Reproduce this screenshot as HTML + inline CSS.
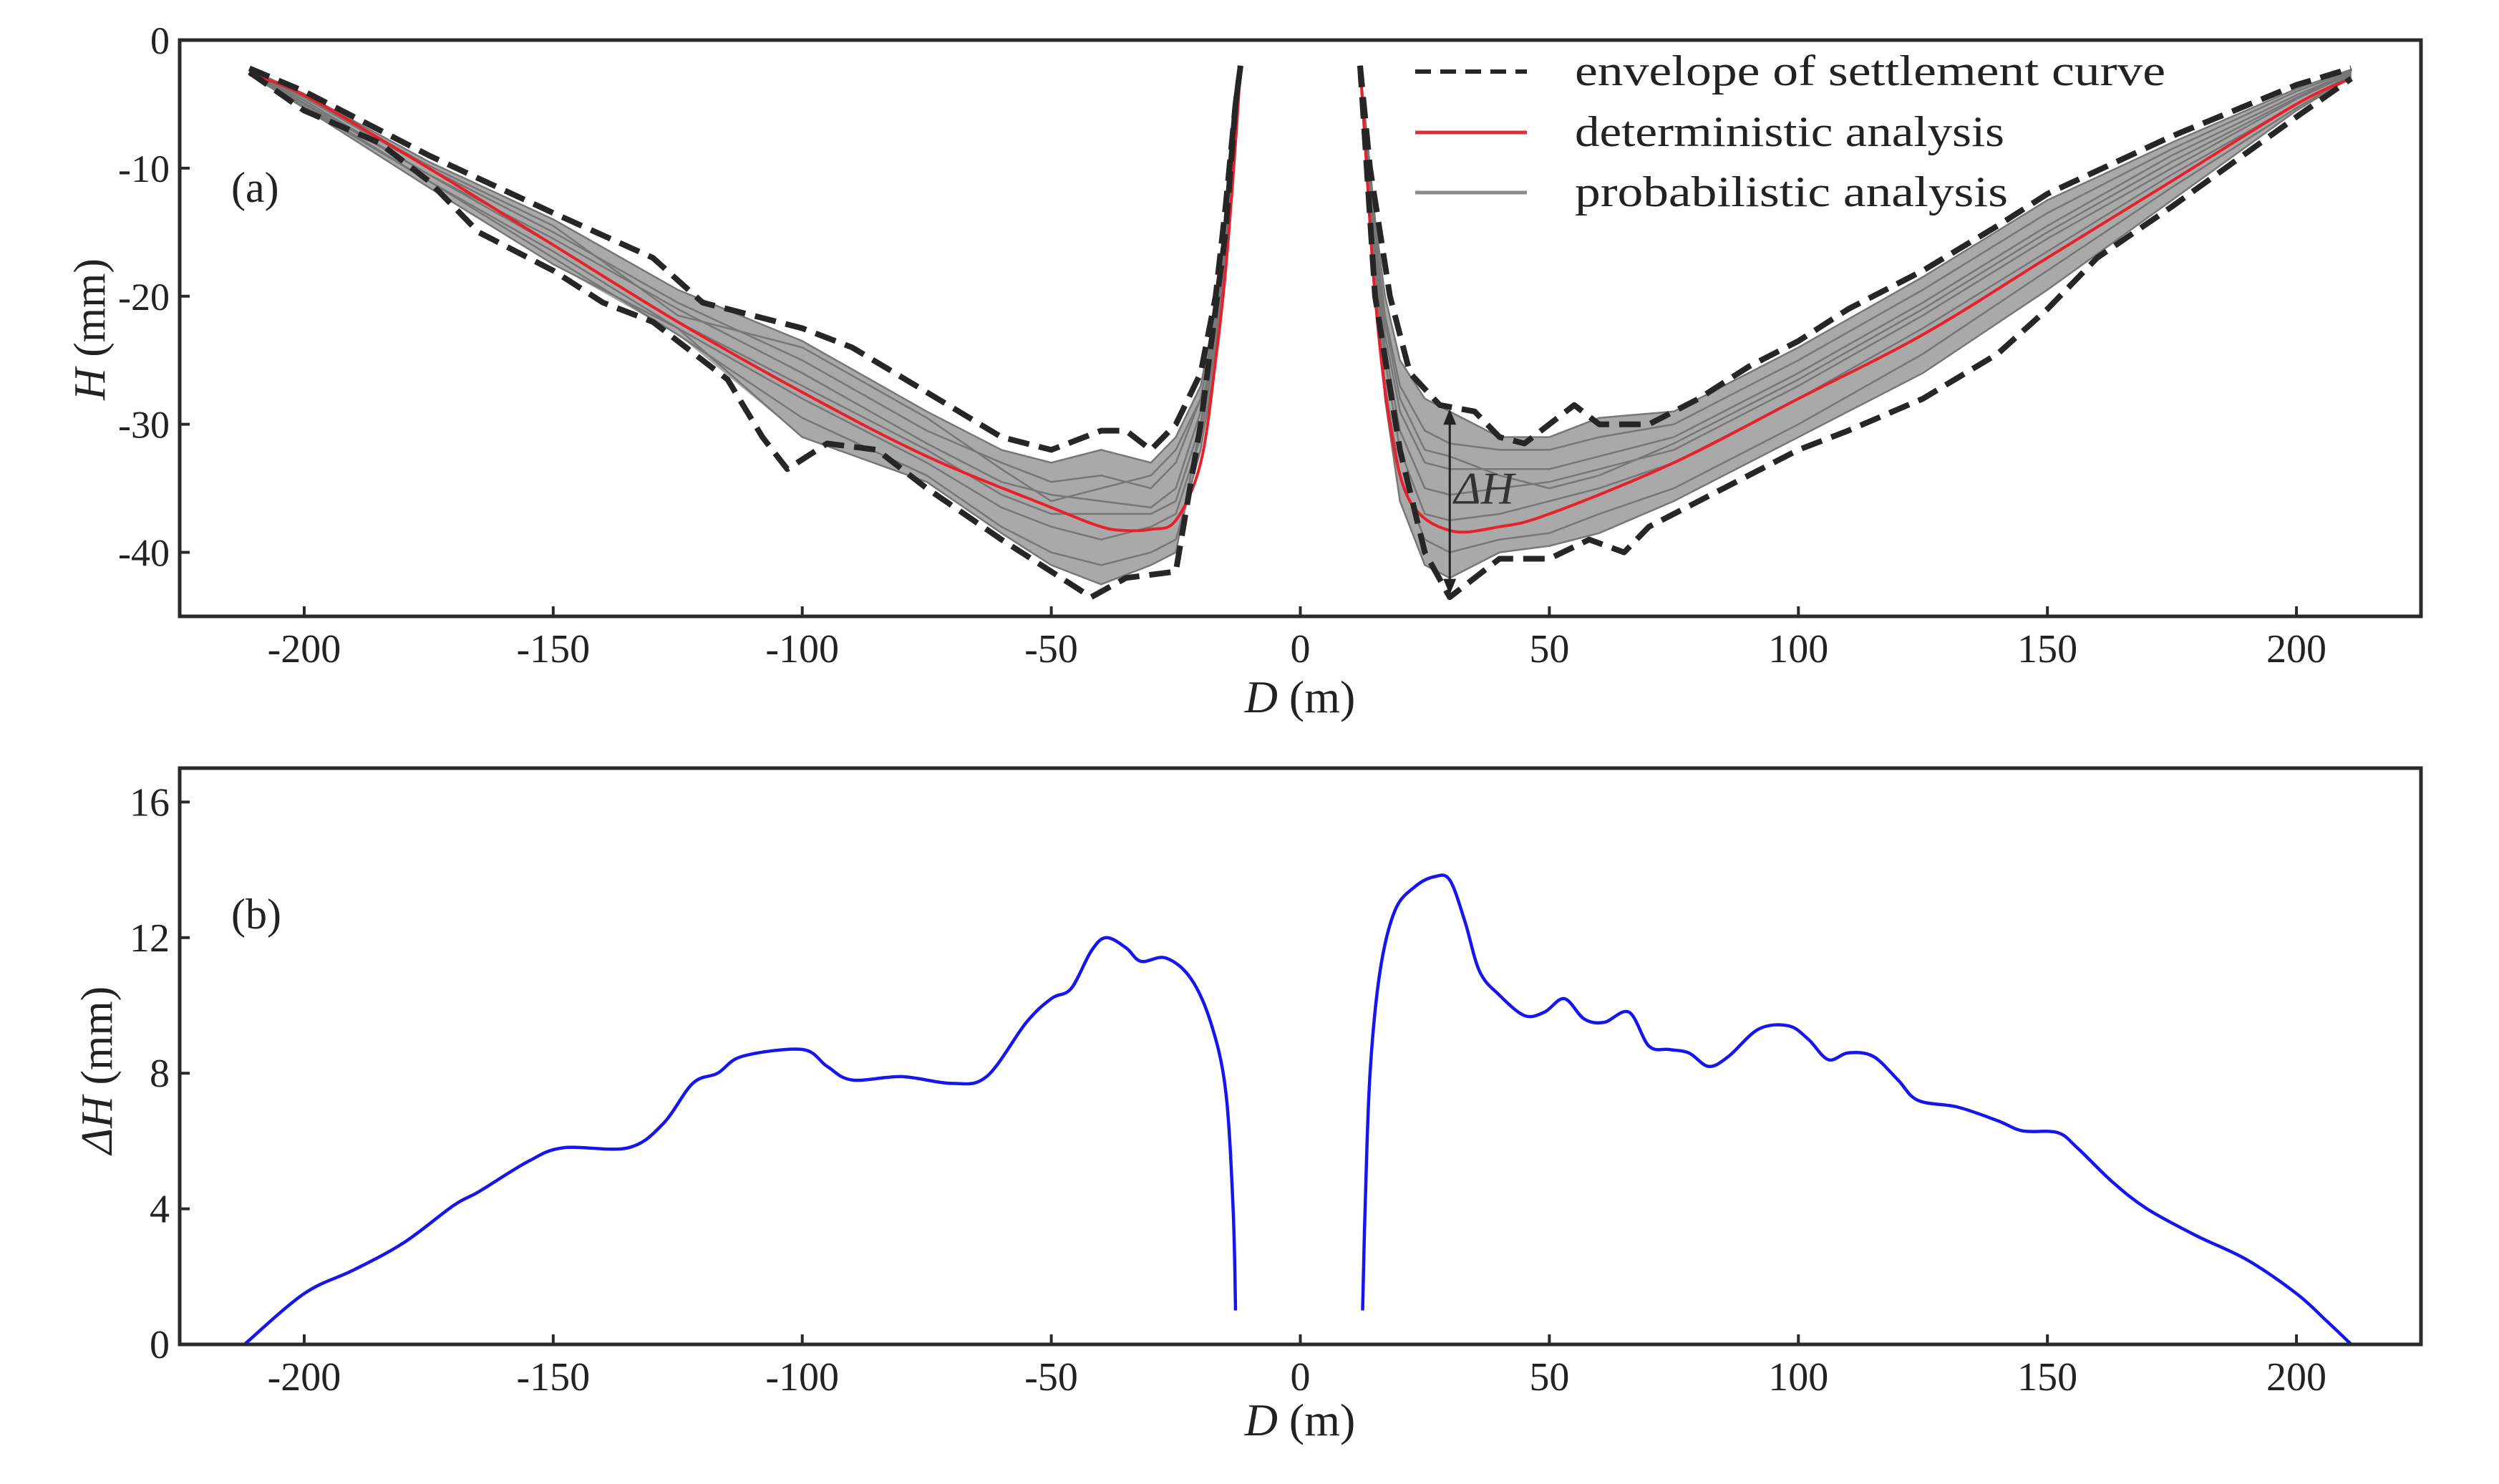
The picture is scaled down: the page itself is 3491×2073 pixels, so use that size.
<!DOCTYPE html>
<html><head><meta charset="utf-8"><style>
html,body{margin:0;padding:0;background:#fff;}
svg{display:block;font-family:"Liberation Serif",serif;}
</style></head><body>
<svg id="fig" xmlns="http://www.w3.org/2000/svg" width="3491" height="2073" viewBox="0 0 3491 2073"></svg>
<script>
// ---- data ----
const xTicks = [-200,-150,-100,-50,0,50,100,150,200];
const hTicks = [0,-10,-20,-30,-40];
const dhTicks = [0,4,8,12,16];

const leftX  = [-211,-200,-175,-150,-125,-100,-75,-60,-50,-40,-30,-25,-20,-17,-15,-13,-12];
const rightX = [12,13,15,17,20,25,30,40,50,60,75,100,125,150,175,200,211];

const detLeftX = [-211,-200,-175,-150,-125,-100,-75,-50,-40,-35,-30,-25,-20,-17,-15,-13,-12];
const detLeftH = [-2.7,-4.3,-10,-16,-22,-27.5,-32.5,-36.5,-38,-38.3,-38.2,-37.5,-33,-25,-18,-8,-2];
const detRightX = [12,13,15,18,22,30,40,50,75,100,125,150,175,200,211];
const detRightH = [-2,-8,-20,-30,-36,-38.3,-38,-37,-33,-28,-23,-17,-11,-5,-3];

const envUpLX = [-211,-200,-175,-150,-130,-120,-100,-90,-75,-60,-50,-40,-35,-30,-25,-20,-17,-15,-13,-12];
const envUpLH = [-2.2,-4,-9,-13.5,-17,-20.5,-22.5,-24,-27.5,-31,-32,-30.5,-30.5,-32,-30,-26,-20,-13,-5,-2];
const envLoLX = [-211,-200,-185,-175,-165,-150,-140,-130,-115,-108,-103,-95,-85,-75,-60,-50,-42,-35,-25,-20,-15,-13,-12];
const envLoLH = [-2.5,-5.5,-8,-11,-15,-18,-20.5,-22,-26.5,-31,-33.5,-31.5,-32,-35,-39,-41.5,-43.5,-42,-41.5,-30,-15,-5,-2];
const envUpRX = [12,14,18,22,28,35,40,45,55,60,70,80,90,100,110,125,140,150,175,200,211];
const envUpRH = [-2,-10,-20,-26,-28.5,-29,-31,-31.5,-28.5,-30,-30,-28,-25.5,-23.5,-21,-18,-14.5,-12,-7.5,-3.5,-2.2];
const envLoRX = [12,15,20,25,30,35,40,50,58,65,70,80,90,100,110,125,140,150,160,175,200,211];
const envLoRH = [-2,-20,-32,-40,-43.5,-42,-40.5,-40.5,-39,-40,-38,-36,-34,-32,-30.5,-28,-24.5,-21,-17,-13,-6,-3];

const grayLeft = [
 [-2.3,-4.2,-9.5,-14,-19.5,-23.5,-29,-32,-33,-32,-33,-31,-27,-21,-14,-6,-2.1],
 [-2.4,-4.5,-10,-15,-20.5,-25,-30.5,-33,-34.5,-34,-35,-33,-28,-22,-15,-6.5,-2.1],
 [-2.5,-4.7,-10.5,-15.5,-21,-26,-31.5,-34.5,-35.5,-36,-36.5,-35,-29,-23,-15.5,-7,-2.2],
 [-2.5,-4.9,-10.5,-16,-22,-27,-32,-35.5,-37,-37,-37,-36,-30,-23.5,-16,-7,-2.2],
 [-2.6,-5,-11,-16.5,-22.5,-28,-33,-36.5,-38,-39,-38,-37,-31,-24,-16.5,-7.5,-2.2],
 [-2.6,-5.2,-11,-17,-23,-29.5,-34,-38,-40,-41,-40,-39,-32,-25,-17,-8,-2.3],
 [-2.7,-5.3,-11.5,-17.5,-22.5,-31,-34.5,-38.5,-41,-42.5,-41,-40,-30,-22,-15,-6,-2.2],
 [-2.4,-4.4,-9.8,-14.5,-21.5,-24,-29.5,-33.5,-36,-35,-34,-32,-28,-21.5,-14.5,-6,-2.1]
];
const grayRight = [
 [-2.1,-6,-14,-20,-25,-28,-29,-31,-31,-29.5,-29,-24,-18.5,-12.5,-8,-3.8,-2.3],
 [-2.1,-6.5,-15,-21.5,-27,-30.5,-31.5,-32,-32,-31,-30,-25,-19.5,-13.5,-8.5,-4,-2.4],
 [-2.2,-7,-16,-23,-29,-33,-33.5,-33.5,-33.5,-32.5,-31,-26,-20.5,-14.5,-9,-4.3,-2.5],
 [-2.2,-7,-16.5,-24,-30.5,-35,-35.5,-35,-34.5,-33.5,-32,-27,-21.5,-15.5,-10,-4.6,-2.6],
 [-2.2,-7.5,-17,-25,-32,-37,-37.5,-37,-36,-35,-33,-28,-22.5,-16.5,-10.5,-5,-2.7],
 [-2.3,-8,-18,-27,-34,-39,-40,-39,-38.5,-37,-35,-30,-24.5,-18,-11.5,-5.3,-2.8],
 [-2.3,-8,-18.5,-28,-36,-41,-42,-40,-39.5,-38.5,-36,-31,-26,-19.5,-12.5,-5.5,-2.9],
 [-2.1,-6.5,-15.5,-22,-28,-32,-32.5,-34,-35,-34,-31.5,-26.5,-21,-15,-9.5,-4.5,-2.5]
];

const dhLeftX = [-212,-200,-190,-180,-170,-165,-155,-148,-135,-128,-122,-117,-112,-100,-95,-90,-80,-70,-63,-55,-50,-46,-42,-39,-35,-32,-27,-22,-18,-15,-13.5,-13];
const dhLeftV = [0,1.5,2.2,3,4.1,4.5,5.4,5.8,5.8,6.5,7.7,8.0,8.5,8.7,8.2,7.8,7.9,7.7,7.9,9.5,10.2,10.5,11.6,12.0,11.7,11.3,11.4,10.8,9.5,7.5,4,1];
const dhRightX = [12.5,13,14,16,19,23,27,30,33,36,40,45,49,53,57,61,66,70,74,78,82,86,92,98,102,106,110,115,120,124,132,140,145,152,156,163,170,180,190,200,206,211];
const dhRightV = [1,4,8,11,12.8,13.5,13.8,13.7,12.5,11,10.3,9.7,9.8,10.2,9.6,9.5,9.8,8.8,8.7,8.6,8.2,8.5,9.3,9.4,9.0,8.4,8.6,8.5,7.8,7.2,7.0,6.6,6.3,6.25,5.8,4.8,4.0,3.2,2.5,1.5,0.7,0];

// ---- layout ----
const NS = "http://www.w3.org/2000/svg";
const svg = document.getElementById('fig');
const L = 251, R = 3382, XMIN = -225, XMAX = 225;
const T1 = 56, B1 = 861, HMAX = 0, HMIN = -45;
const T2 = 1073, B2 = 1878, DMIN = 0, DMAX = 17;
function sx(d){ return L + (d - XMIN) / (XMAX - XMIN) * (R - L); }
function sy1(h){ return T1 + (HMAX - h) / (HMAX - HMIN) * (B1 - T1); }
function sy2(v){ return B2 - (v - DMIN) / (DMAX - DMIN) * (B2 - T2); }
function mk(tag, attrs, parent){
  const e = document.createElementNS(NS, tag);
  for (const k in attrs) e.setAttribute(k, attrs[k]);
  (parent || svg).appendChild(e);
  return e;
}
function linePath(xs, ys, fy){
  return xs.map((x,i)=>(i?'L':'M')+sx(x).toFixed(1)+','+fy(ys[i]).toFixed(1)).join(' ');
}
function smoothPath(xs, ys, fy){
  const p = xs.map((x,i)=>[sx(x), fy(ys[i])]);
  let d = 'M'+p[0][0].toFixed(1)+','+p[0][1].toFixed(1);
  for (let i=0;i<p.length-1;i++){
    const p0=p[Math.max(0,i-1)], p1=p[i], p2=p[i+1], p3=p[Math.min(p.length-1,i+2)];
    const c1=[p1[0]+(p2[0]-p0[0])/6, p1[1]+(p2[1]-p0[1])/6];
    const c2=[p2[0]-(p3[0]-p1[0])/6, p2[1]-(p3[1]-p1[1])/6];
    d += ' C'+c1[0].toFixed(1)+','+c1[1].toFixed(1)+' '+c2[0].toFixed(1)+','+c2[1].toFixed(1)+' '+p2[0].toFixed(1)+','+p2[1].toFixed(1);
  }
  return d;
}
function txt(s, x, y, size, anchor, parent, extra){
  const t = mk('text', Object.assign({x:x, y:y, 'font-size':size, 'text-anchor':anchor||'middle', fill:'#222'}, extra||{}), parent);
  t.textContent = s;
  return t;
}

// ---- panel (a) ----
const gA = mk('g', {});



[[leftX, grayLeft], [rightX, grayRight]].forEach(([xs, gs], side)=>{
  const up = xs.map((x,i)=>Math.max(...gs.map(g=>g[i])));
  const lo = xs.map((x,i)=>Math.min(...gs.map(g=>g[i])));
  const d = linePath(xs, up, sy1) + ' ' + xs.slice().reverse().map((x,j)=>{const i=xs.length-1-j;return 'L'+sx(x).toFixed(1)+','+sy1(lo[i]).toFixed(1);}).join(' ') + ' Z';
  const band = mk('path', {d:d, fill:'#9a9a9a', stroke:'none', opacity:'0.85'}, gA);
  
  
});
grayLeft.forEach((g,k)=>{
  const p = mk('path', {d:linePath(leftX, g, sy1), fill:'none', stroke:'#777', 'stroke-width':2.5}, gA);
  
  
});
grayRight.forEach((g,k)=>{
  const p = mk('path', {d:linePath(rightX, g, sy1), fill:'none', stroke:'#777', 'stroke-width':2.5}, gA);
  
  
});
[[detLeftX, detLeftH, 'left'], [detRightX, detRightH, 'right']].forEach(([xs, hs, s])=>{
  const p = mk('path', {d:smoothPath(xs, hs, sy1), fill:'none', stroke:'#e8202a', 'stroke-width':4}, gA);
  
  
});
[[envUpLX, envUpLH, 'upper-left'], [envLoLX, envLoLH, 'lower-left'], [envUpRX, envUpRH, 'upper-right'], [envLoRX, envLoRH, 'lower-right']].forEach(([xs, hs, s])=>{
  const p = mk('path', {d:linePath(xs, hs, sy1), fill:'none', stroke:'#262626', 'stroke-width':8, 'stroke-dasharray':'30 14', 'stroke-linejoin':'round'}, gA);
  
  
});
const arrX = sx(30);
const arr = mk('g', {}, gA);


mk('line', {x1:arrX, y1:sy1(-28.8)+14, x2:arrX, y2:sy1(-43.3)-14, stroke:'#222', 'stroke-width':3}, arr);
mk('path', {d:`M${arrX-9},${sy1(-28.8)+22} L${arrX},${sy1(-28.8)} L${arrX+9},${sy1(-28.8)+22} Z`, fill:'#222'}, arr);
mk('path', {d:`M${arrX-9},${sy1(-43.3)-22} L${arrX},${sy1(-43.3)} L${arrX+9},${sy1(-43.3)-22} Z`, fill:'#222'}, arr);
txt('ΔH', arrX+6, sy1(-36.2), 64, 'start', arr, {'font-style':'italic', fill:'#333'});

const fA = mk('rect', {x:L, y:T1, width:R-L, height:B1-T1, fill:'none', stroke:'#2a2a2a', 'stroke-width':5}, gA);


xTicks.forEach(v=>{
  mk('line', {x1:sx(v), y1:B1, x2:sx(v), y2:B1-14, stroke:'#2a2a2a', 'stroke-width':4}, gA);
  const t = txt(String(v), sx(v), B1+64, 56, 'middle', gA);
  
  
});
hTicks.forEach(v=>{
  mk('line', {x1:L, y1:sy1(v), x2:L+14, y2:sy1(v), stroke:'#2a2a2a', 'stroke-width':4}, gA);
  const t = txt(String(v), L-14, sy1(v)+19, 54, 'end', gA);
  
  
});
const xtA = txt('', 1816, 995, 64, 'middle', gA);
xtA.innerHTML = '<tspan font-style="italic">D</tspan> (m)';


const ytA = txt('', 0, 0, 62, 'middle', gA, {transform:'translate(146,460) rotate(-90)'});
ytA.innerHTML = '<tspan font-style="italic">H</tspan> (mm)';


const lblA = txt('(a)', 323, 282, 60, 'start', gA);



const leg = mk('g', {}, gA);


const legItems = [
  ['envelope of settlement curve', {stroke:'#262626','stroke-width':6,'stroke-dasharray':'22 13'}, 100, 'legend-entry-envelope', 825],
  ['deterministic  analysis', {stroke:'#d8303c','stroke-width':5}, 185, 'legend-entry-deterministic', 600],
  ['probabilistic analysis', {stroke:'#8a8a8a','stroke-width':5}, 269, 'legend-entry-probabilistic', 605]
];
legItems.forEach(([s, st, y, nm, w])=>{
  const g = mk('g', {}, leg);
  
  
  mk('line', Object.assign({x1:1977, y1:y, x2:2133, y2:y}, st), g);
  txt(s, 2200, y+19, 60, 'start', g, {textLength:w, lengthAdjust:'spacingAndGlyphs'});
});

// ---- panel (b) ----
const gB = mk('g', {});


[[dhLeftX, dhLeftV, 'left'], [dhRightX, dhRightV, 'right']].forEach(([xs, vs, s])=>{
  const p = mk('path', {d:smoothPath(xs, vs, sy2), fill:'none', stroke:'#1515ee', 'stroke-width':4.5}, gB);
  
  
});
const fB = mk('rect', {x:L, y:T2, width:R-L, height:B2-T2, fill:'none', stroke:'#2a2a2a', 'stroke-width':5}, gB);


xTicks.forEach(v=>{
  mk('line', {x1:sx(v), y1:B2, x2:sx(v), y2:B2-14, stroke:'#2a2a2a', 'stroke-width':4}, gB);
  const t = txt(String(v), sx(v), B2+64, 56, 'middle', gB);
  
  
});
dhTicks.forEach(v=>{
  mk('line', {x1:L, y1:sy2(v), x2:L+14, y2:sy2(v), stroke:'#2a2a2a', 'stroke-width':4}, gB);
  const t = txt(String(v), L-14, sy2(v)+19, 56, 'end', gB);
  
  
});
const xtB = txt('', 1816, 2005, 64, 'middle', gB);
xtB.innerHTML = '<tspan font-style="italic">D</tspan> (m)';


const ytB = txt('', 0, 0, 62, 'middle', gB, {transform:'translate(156,1495) rotate(-90)'});
ytB.innerHTML = '<tspan font-style="italic">ΔH</tspan> (mm)';


const lblB = txt('(b)', 323, 1297, 60, 'start', gB);


</script>
</body></html>
